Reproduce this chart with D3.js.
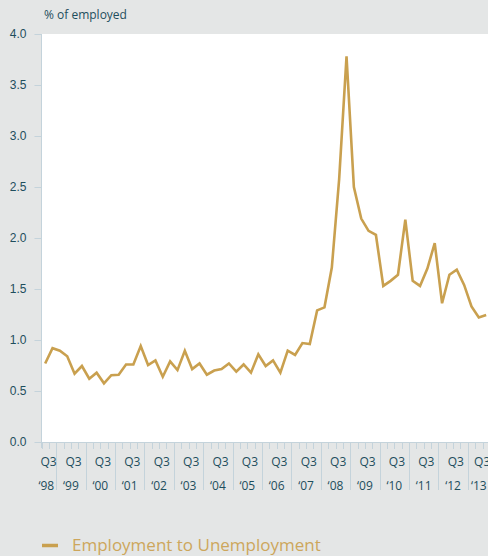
<!DOCTYPE html>
<html>
<head>
<meta charset="utf-8">
<title>Employment to Unemployment</title>
<style>
	body { margin: 0; background: #e4e6e6; }
	svg { display: block; font-family: "Open Sans", sans-serif; }
	.axis-text { fill: #1e4e5d; font-size: 12px; }
	.grid-line { stroke: #c4d3db; stroke-width: 1px; shape-rendering: crispEdges; }
</style>
<script src="https://d3js.org/d3.v7.min.js"></script>
</head>
<body>
<svg id="chart" width="488" height="556"></svg>
<script>
// years shown on the axis and their short labels
var years = [1998, 1999, 2000, 2001, 2002, 2003, 2004, 2005, 2006, 2007, 2008, 2009, 2010, 2011, 2012, 2013];
var yearLabels = ["\u201898", "\u201899", "\u201800", "\u201801", "\u201802", "\u201803", "\u201804", "\u201805",
	"\u201806", "\u201807", "\u201808", "\u201809", "\u201810", "\u201811", "\u201812", "\u201813"];
var quarterNames = ["Q1", "Q2", "Q3", "Q4"];
var firstQuarter = "1998Q3";
var lastQuarter = "2013Q3";
// Employment to Unemployment, % of employed, 1998 Q3 .. 2013 Q3
var flowValues = [
	0.77, 0.92, 0.895, 0.84, 0.67, 0.745, 0.62, 0.68, 0.575, 0.655,
	0.66, 0.76, 0.76, 0.94, 0.755, 0.80, 0.64, 0.79, 0.705, 0.895,
	0.715, 0.77, 0.66, 0.70, 0.715, 0.77, 0.69, 0.76, 0.68, 0.86,
	0.745, 0.80, 0.68, 0.895, 0.853, 0.97, 0.96, 1.29, 1.32, 1.71,
	2.58, 3.78, 2.50, 2.19, 2.07, 2.03, 1.53, 1.58, 1.64, 2.18,
	1.58, 1.53, 1.70, 1.95, 1.36, 1.64, 1.69, 1.54, 1.33, 1.22, 1.245
];
var yTicks = [0, 0.5, 1, 1.5, 2, 2.5, 3, 3.5, 4];

// list of quarter categories on the axis
var quarters = [];
years.forEach(function(y) {
	quarterNames.forEach(function(q) { quarters.push(y + q); });
});
quarters = quarters.slice(quarters.indexOf(firstQuarter), quarters.indexOf(lastQuarter) + 1);

var plotLeft = 41.5, plotTop = 34, plotBottom = 442, qw = 7.35;
var svg = d3.select("#chart");

var x = d3.scaleBand()
	.domain(quarters)
	.range([plotLeft, plotLeft + quarters.length * qw])
	.padding(0);
var y = d3.scaleLinear().domain([0, 4]).range([plotBottom, plotTop]);

// white plot area
svg.append("rect")
	.attr("x", plotLeft).attr("y", plotTop)
	.attr("width", x.range()[1] - plotLeft).attr("height", plotBottom - plotTop)
	.attr("fill", "#ffffff");

// y axis
var yAxis = svg.append("g")
	.attr("transform", "translate(" + plotLeft + ",0)")
	.call(d3.axisLeft(y).tickValues(yTicks).tickFormat(d3.format(".1f")).tickSize(7).tickPadding(8));
yAxis.select(".domain").attr("stroke", "#c4d3db").attr("d", "M0," + plotTop + "V" + (plotBottom + 6));
yAxis.selectAll(".tick line").attr("stroke", "#c4d3db");
yAxis.selectAll(".tick text").attr("class", "axis-text").attr("font-size", null).attr("font-family", null).attr("fill", null);

// bottom axis line
svg.append("line").attr("class", "grid-line")
	.attr("x1", plotLeft).attr("x2", x.range()[1])
	.attr("y1", plotBottom).attr("y2", plotBottom);

// quarter ticks and year separators
svg.append("g").selectAll("line")
	.data(quarters)
	.enter()
	.append("line")
	.attr("class", "grid-line")
	.attr("x1", function(d) { return Math.round(x(d)) + 0.5; })
	.attr("x2", function(d) { return Math.round(x(d)) + 0.5; })
	.attr("y1", plotBottom)
	.attr("y2", function(d) { return d.slice(4) == "Q1" ? 490 : 449; });

// Q3 labels and year labels, kept inside each year's span
years.forEach(function(yr, i) {
	var qs = quarters.filter(function(d) { return d.slice(0, 4) == yr; });
	if (qs.length == 0) return;
	var x0 = x(qs[0]), x1 = x(qs[qs.length - 1]) + x.bandwidth();
	var qx = x(yr + "Q3") + x.bandwidth() / 2 - 1;
	qx = Math.min(Math.max(qx, x0 + 7.7), x1 - 7.7);
	svg.append("text").attr("class", "axis-text")
		.attr("x", qx).attr("y", 465.5)
		.attr("text-anchor", "middle").text("Q3");
	svg.append("text").attr("class", "axis-text")
		.attr("x", i == 0 ? (x0 + x1) / 2 - 2.5 : (x0 + x1) / 2).attr("y", 490)
		.attr("text-anchor", "middle").text(yearLabels[i]);
});

// unit label
svg.append("text").attr("class", "axis-text")
	.attr("x", 44).attr("y", 19)
	.text("% of employed");

// the line
var line = d3.line()
	.x(function(d, i) { return x(quarters[i]) + x.bandwidth() / 2; })
	.y(function(d) { return y(d); });
svg.append("path")
	.datum(flowValues)
	.attr("d", line)
	.attr("fill", "none")
	.attr("stroke", "#c9a04f")
	.attr("stroke-width", 2.6)
	.attr("stroke-linejoin", "miter");

// legend
svg.append("line")
	.attr("x1", 42).attr("x2", 58).attr("y1", 545.5).attr("y2", 545.5)
	.attr("stroke", "#c9a04f").attr("stroke-width", 3.5);
svg.append("text")
	.attr("x", 72).attr("y", 551)
	.attr("fill", "#cda65c").attr("font-size", "17px")
	.text("Employment to Unemployment");
</script>
</body>
</html>
